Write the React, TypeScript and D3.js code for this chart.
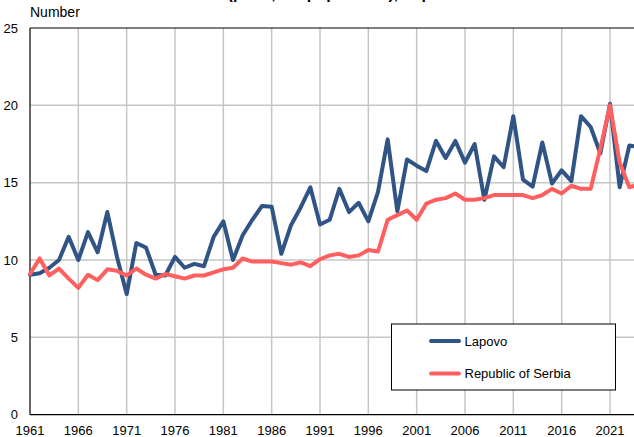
import React from "react";
import * as d3 from "d3";

const years: number[] = d3.range(1961, 2025);

const lapovo: number[] = [
  9.05, 9.15, 9.5, 10.0, 11.5, 10.0, 11.8, 10.5, 13.1, 10.2,
  7.8, 11.1, 10.8, 9.05, 9.0, 10.2, 9.5, 9.75, 9.6, 11.5,
  12.5, 10.0, 11.6, 12.6, 13.5, 13.45, 10.4, 12.25, 13.4, 14.7,
  12.3, 12.6, 14.6, 13.1, 13.7, 12.5, 14.4, 17.8, 13.15, 16.5,
  16.1, 15.75, 17.7, 16.6, 17.7, 16.3, 17.5, 13.9, 16.7, 16.0,
  19.3, 15.2, 14.75, 17.6, 14.95, 15.8, 15.1, 19.3, 18.6, 16.9,
  20.1, 14.7, 17.4, 17.3,
];

const serbia: number[] = [
  9.1, 10.1, 9.0, 9.45, 8.8, 8.2, 9.05, 8.7, 9.4, 9.3,
  9.0, 9.45, 9.05, 8.8, 9.1, 8.95, 8.8, 9.0, 9.0, 9.2,
  9.4, 9.5, 10.1, 9.9, 9.9, 9.9, 9.8, 9.7, 9.85, 9.6,
  10.05, 10.3, 10.4, 10.2, 10.3, 10.65, 10.55, 12.6, 12.9, 13.2,
  12.6, 13.65, 13.9, 14.0, 14.3, 13.9, 13.9, 14.0, 14.2, 14.2,
  14.2, 14.2, 14.0, 14.2, 14.6, 14.3, 14.8, 14.6, 14.6, 17.2,
  20.0, 16.3, 14.7, 14.9,
];

const seriesNames: string[] = ["Lapovo", "Republic of Serbia"];
const seriesColors: string[] = ["#2f5485", "#ff5f5f"];
const xTicks: number[] = d3.range(1961, 2022, 5);
const yTicks: number[] = [0, 5, 10, 15, 20, 25];

const W = 634;
const H = 437;
const FONT = "'Liberation Sans', Arial, sans-serif";

export default function App() {
  const x = d3.scaleLinear().domain([1961, 2021]).range([30, 610]);
  const y = d3.scaleLinear().domain([0, 25]).range([414.7, 28]);
  const xRight = x(2025.5);

  const line = d3
    .line<number>()
    .x((_, i) => x(years[i]))
    .y((d) => y(d));

  const data = [lapovo, serbia];

  return (
    <svg
      width={W}
      height={H}
      style={{ position: "absolute", left: 0, top: 0, background: "#fff" }}
      fontFamily={FONT}
    >
      <defs>
        <clipPath id="plot">
          <rect x={0} y={0} width={W} height={H} />
        </clipPath>
      </defs>
      <text x={96} y={-1.5} fontSize={16} fontWeight="bold" fill="#000">
        Crude death rate (per 1,000 population), Lapovo
      </text>
      <text x={30} y={17} fontSize={14} fill="#000">
        Number
      </text>

      {/* grid */}
      {yTicks
        .filter((t) => t > 0 && t < 25)
        .map((t) => (
          <line key={"gy" + t} x1={30} x2={xRight} y1={y(t)} y2={y(t)} stroke="#c6c6c6" strokeWidth={1.5} />
        ))}
      {xTicks
        .filter((t) => t > 1961)
        .map((t) => (
          <line key={"gx" + t} x1={x(t)} x2={x(t)} y1={y(25)} y2={y(0)} stroke="#c6c6c6" strokeWidth={1.5} />
        ))}

      {/* frame */}
      <line x1={30} x2={xRight} y1={y(25)} y2={y(25)} stroke="#000" strokeWidth={1.2} />
      <line x1={30} x2={xRight} y1={y(0)} y2={y(0)} stroke="#000" strokeWidth={1.2} />
      <line x1={30} x2={30} y1={y(25)} y2={y(0)} stroke="#000" strokeWidth={1.2} />

      {/* y labels */}
      {yTicks.map((t) => (
        <text key={"yl" + t} x={18} y={y(t) + 4.5} fontSize={13} textAnchor="end" fill="#000">
          {t}
        </text>
      ))}
      {/* x labels */}
      {xTicks.map((t) => (
        <text key={"xl" + t} x={x(t)} y={435} fontSize={13} textAnchor="middle" fill="#000">
          {t}
        </text>
      ))}

      {/* lines */}
      <g clipPath="url(#plot)">
        {data.map((s, i) => (
          <path
            key={seriesNames[i]}
            d={line(s) || ""}
            fill="none"
            stroke={seriesColors[i]}
            strokeWidth={4}
            strokeLinejoin="round"
            strokeLinecap="round"
          />
        ))}
      </g>

      {/* legend */}
      <rect x={391.5} y={324} width={224} height={66} fill="#fff" stroke="#000" strokeWidth={1} />
      {seriesNames.map((n, i) => (
        <g key={"lg" + n}>
          <line
            x1={431}
            x2={459}
            y1={341 + i * 32.5}
            y2={341 + i * 32.5}
            stroke={seriesColors[i]}
            strokeWidth={4}
            strokeLinecap="round"
          />
          <text x={464.5} y={345.5 + i * 32.5} fontSize={13} fill="#000">
            {n}
          </text>
        </g>
      ))}
    </svg>
  );
}
